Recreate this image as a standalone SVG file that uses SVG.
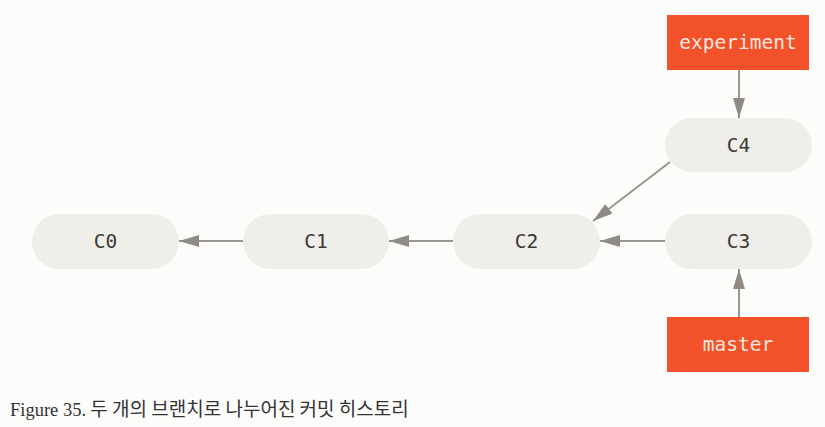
<svg xmlns="http://www.w3.org/2000/svg" width="825" height="427" viewBox="0 0 825 427">
<style>
.commit{fill:#efeee9}
.branch{fill:#f25129}
.lbl{font-family:"DejaVu Sans Mono","Liberation Mono",monospace;font-size:19.5px;text-anchor:middle;dominant-baseline:central}
.cl{fill:#3b3935}
.bl{fill:#f8e6de}
.edge{stroke:#9a958f;stroke-width:2;fill:none;marker-end:url(#ah)}
.cap{fill:#333}
</style>
<defs>
<marker id="ah" viewBox="0 0 20 12" refX="20" refY="6" markerWidth="20" markerHeight="12" markerUnits="userSpaceOnUse" orient="auto">
<path d="M0,0 L20,6 L0,12 Z" fill="#8f8a84"/>
</marker>
</defs>
<rect width="825" height="427" fill="#fcfcfb"/>
<g id="connectors">
<line class="edge" x1="739" y1="70" x2="739" y2="118"/>
<line class="edge" x1="670" y1="162" x2="593" y2="221"/>
<line class="edge" x1="243" y1="241" x2="179" y2="241"/>
<line class="edge" x1="453" y1="241" x2="389" y2="241"/>
<line class="edge" x1="665" y1="241" x2="600" y2="241"/>
<line class="edge" x1="739" y1="317" x2="739" y2="269"/>
</g>
<g id="C0"><rect class="commit" x="32" y="214" width="147" height="55" rx="27.5"/><text class="lbl cl" x="105.5" y="241.5">C0</text></g>
<g id="C1"><rect class="commit" x="243" y="214" width="146" height="55" rx="27.5"/><text class="lbl cl" x="316" y="241.5">C1</text></g>
<g id="C2"><rect class="commit" x="453" y="214" width="147" height="55" rx="27.5"/><text class="lbl cl" x="526.5" y="241.5">C2</text></g>
<g id="C3"><rect class="commit" x="665" y="214" width="147" height="55" rx="27.5"/><text class="lbl cl" x="738.5" y="241.5">C3</text></g>
<g id="C4"><rect class="commit" x="665" y="118" width="147" height="54" rx="27"/><text class="lbl cl" x="738.5" y="145">C4</text></g>
<g id="experiment"><rect class="branch" x="667" y="15" width="142" height="55"/><text class="lbl bl" x="738" y="42.5">experiment</text></g>
<g id="master"><rect class="branch" x="667" y="317" width="142" height="55"/><text class="lbl bl" x="738" y="344.5">master</text></g>
<text class="cap" x="10" y="416"><tspan font-family="Liberation Serif,serif" font-size="18.5">Figure 35.</tspan><tspan font-family="Noto Sans CJK KR,sans-serif" font-size="19"> 두 개의 브랜치로 나누어진 커밋 히스토리</tspan></text>
</svg>
